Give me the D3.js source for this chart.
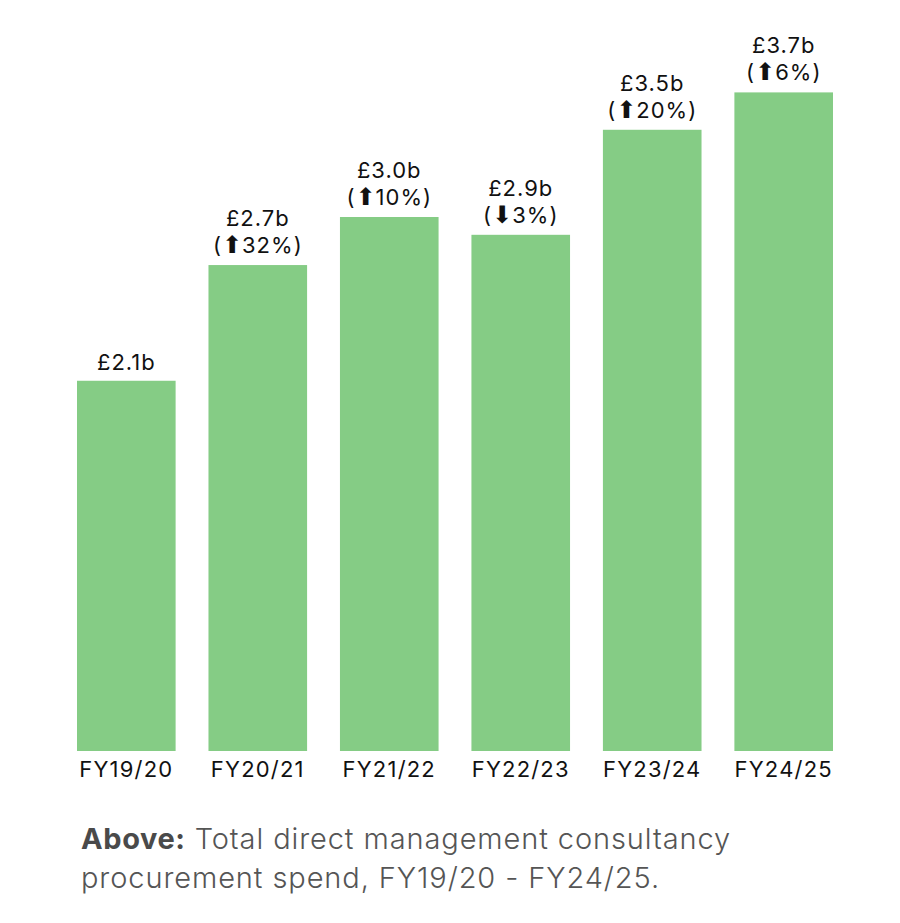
<!DOCTYPE html>
<html>
<head>
<meta charset="utf-8">
<script src="https://cdn.jsdelivr.net/npm/d3@7"></script>
<style>
  body { margin: 0; background: #fff; }
  svg text { font-family: Inter, "Noto Sans", sans-serif; }
</style>
</head>
<body>
<script>
const years = ['FY19/20', 'FY20/21', 'FY21/22', 'FY22/23', 'FY23/24', 'FY24/25'];
const spend = [2.08, 2.73, 3.0, 2.9, 3.49, 3.7];
const spendLabels = ['£2.1b', '£2.7b', '£3.0b', '£2.9b', '£3.5b', '£3.7b'];
const changes = [null, 32, 10, -3, 20, 6];

const width = 900, height = 923;
const svg = d3.select('body').append('svg')
  .attr('width', width)
  .attr('height', height);

const x = d3.scaleBand()
  .domain(years)
  .range([77, 833])
  .paddingInner(0.25)
  .paddingOuter(0);

const y = d3.scaleLinear()
  .domain([0, 4])
  .range([751, 39]);

// bars
svg.selectAll('rect.bar')
  .data(spend)
  .enter()
  .append('rect')
  .attr('class', 'bar')
  .attr('x', (d, i) => x(years[i]))
  .attr('width', x.bandwidth())
  .attr('y', d => y(d))
  .attr('height', d => y(0) - y(d))
  .attr('fill', '#85cc85');

// value labels, plus the change line under them when there is one
const lab = svg.selectAll('g.lab')
  .data(spend.map((v, i) => ({ v, i })))
  .enter()
  .append('g')
  .attr('class', 'lab')
  .attr('transform', d => `translate(${x(years[d.i]) + x.bandwidth() / 2},${y(d.v)})`);

lab.append('text')
  .attr('text-anchor', 'middle')
  .attr('y', d => changes[d.i] === null ? -11 : -39)
  .attr('font-size', 22)
  .attr('letter-spacing', 1)
  .attr('fill', '#111')
  .text(d => spendLabels[d.i]);

const chg = lab.filter(d => changes[d.i] !== null)
  .append('text')
  .attr('text-anchor', 'middle')
  .attr('y', -12)
  .attr('font-size', 22)
  .attr('letter-spacing', 1)
  .attr('fill', '#111');
chg.append('tspan').text('(');
chg.append('tspan')
  .style('font-family', '"DejaVu Sans"')
  .attr('font-size', 24)
  .attr('letter-spacing', 0)
  .text(d => changes[d.i] < 0 ? '⬇' : '⬆');
chg.append('tspan').text(d => Math.abs(changes[d.i]) + '%)');

// category axis
svg.append('g')
  .attr('transform', `translate(0,${y(0)})`)
  .call(d3.axisBottom(x).tickSize(0).tickPadding(10))
  .call(g => g.select('.domain').remove())
  .call(g => g.selectAll('text')
    .attr('font-size', 22)
    .attr('letter-spacing', 1.2)
    .attr('fill', '#111')
    .style('font-family', 'Inter, "Noto Sans", sans-serif'));

// caption
const cap = svg.append('g').attr('transform', 'translate(81,0)');
const l1 = cap.append('text').attr('y', 849).attr('font-size', 29).attr('fill', '#555');
l1.append('tspan').attr('font-weight', 700).attr('letter-spacing', 0.6).attr('fill', '#4a4a4a').text('Above:');
l1.append('tspan').attr('font-weight', 300).attr('letter-spacing', 0.9).text(' Total direct management consultancy');
cap.append('text').attr('y', 888).attr('font-size', 29).attr('fill', '#555')
  .attr('font-weight', 300).attr('letter-spacing', 0.9)
  .text('procurement spend, FY19/20 - FY24/25.');
</script>
</body>
</html>
